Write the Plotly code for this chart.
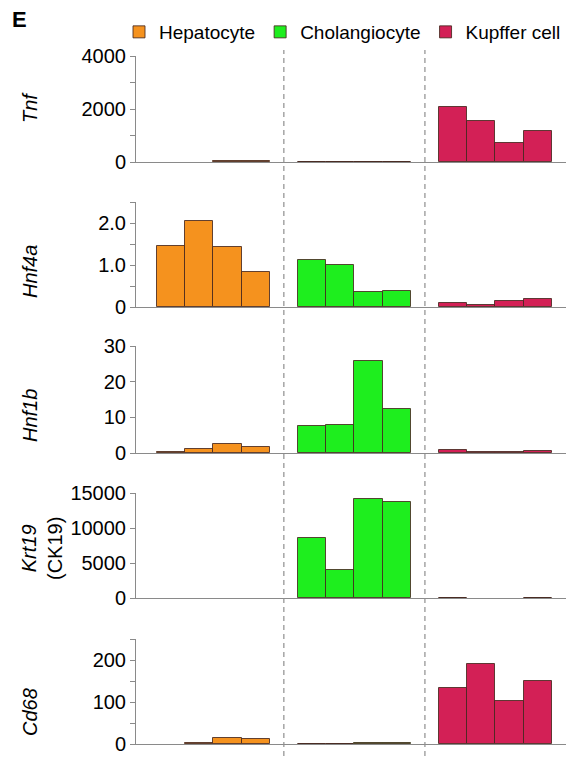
import plotly.graph_objects as go

W, H = 566, 760

cell_types = ["Hepatocyte", "Cholangiocyte", "Kupffer cell"]
colors = ["#F5921E", "#1EEE1E", "#D32056"]

genes = ["Tnf", "Hnf4a", "Hnf1b", "Krt19", "Cd68"]
gene_labels = ["<i>Tnf</i>", "<i>Hnf4a</i>", "<i>Hnf1b</i>", "<i>Krt19</i><br>(CK19)", "<i>Cd68</i>"]

# values: [gene][cell type] -> 4 samples (None = not visible / zero)
tnf_hep = [None, None, 20, 30]
tnf_chol = [5, 5, 5, 5]
tnf_kup = [2060, 1530, 715, 1170]

hnf4a_hep = [1.46, 2.05, 1.44, 0.83]
hnf4a_chol = [1.12, 1.00, 0.36, 0.38]
hnf4a_kup = [0.09, 0.05, 0.15, 0.18]

hnf1b_hep = [0.35, 1.1, 2.4, 1.6]
hnf1b_chol = [7.6, 7.8, 25.8, 12.3]
hnf1b_kup = [0.9, 0.2, 0.2, 0.5]

krt19_hep = [None, None, None, None]
krt19_chol = [8570, 4000, 14150, 13700]
krt19_kup = [30, None, None, 30]

cd68_hep = [None, 2, 13.5, 12]
cd68_chol = [1, 1, 2, 2]
cd68_kup = [133, 191, 102, 150]

values = [
    [tnf_hep, tnf_chol, tnf_kup],
    [hnf4a_hep, hnf4a_chol, hnf4a_kup],
    [hnf1b_hep, hnf1b_chol, hnf1b_kup],
    [krt19_hep, krt19_chol, krt19_kup],
    [cd68_hep, cd68_chol, cd68_kup],
]

y_ranges = [[0, 4000], [0, 2.5], [0, 30], [0, 15000], [0, 250]]
y_tickvals = [
    [0, 1000, 2000, 3000, 4000],
    [0, 0.5, 1.0, 1.5, 2.0, 2.5],
    [0, 10, 20, 30],
    [0, 5000, 10000, 15000],
    [0, 50, 100, 150, 200, 250],
]
y_ticktext = [
    ["0", "", "2000", "", "4000"],
    ["0", "", "1.0", "", "2.0", ""],
    ["0", "10", "20", "30"],
    ["0", "5000", "10000", "15000"],
    ["0", "", "100", "", "200", ""],
]

# panel pixel extents (top, bottom) measured from top of figure
panel_px = [(56, 162), (202, 307), (346, 453), (493, 598), (639, 744)]
label_px = [(30, 108), (30, 272), (30, 416), (42, 549), (30, 712)]
separators = [4.0, 9.0]

FONT = "Liberation Sans, Arial, sans-serif"
AXC = "#8a8a8a"

fig = go.Figure()
layout = dict(
    width=W, height=H,
    margin=dict(l=0, r=0, t=0, b=0, autoexpand=False),
    paper_bgcolor="white", plot_bgcolor="white",
    barmode="overlay", bargap=0,
    font=dict(family=FONT, size=20, color="black"),
    showlegend=True,
    legend=dict(orientation="h", x=1.0, xanchor="right", y=1 - 32 / H, yanchor="middle",
                font=dict(family=FONT, size=19, color="black"),
                itemwidth=30, tracegroupgap=0, bgcolor="rgba(0,0,0,0)"),
)

for gi in range(5):
    ax = "" if gi == 0 else str(gi + 1)
    for ci in range(3):
        xs = [5 * ci + j for j in range(4)]
        fig.add_trace(go.Bar(
            x=xs, y=values[gi][ci], width=1.0,
            marker=dict(color=colors[ci], line=dict(color="rgba(70,40,30,0.85)", width=1)),
            name=cell_types[ci], showlegend=(gi == 0), legendgroup=cell_types[ci],
            xaxis="x" + ax, yaxis="y" + ax, hoverinfo="skip",
        ))
    top, bot = panel_px[gi]
    layout["xaxis" + ax] = dict(
        domain=[136 / W, 1.0], range=[-1.24, 14.0], anchor="y" + ax,
        showline=True, linecolor=AXC, linewidth=1, ticks="", showticklabels=False,
        showgrid=False, zeroline=False, fixedrange=True,
    )
    layout["yaxis" + ax] = dict(
        domain=[1 - bot / H, 1 - top / H], range=y_ranges[gi], anchor="x" + ax,
        showline=True, linecolor=AXC, linewidth=1, ticks="outside", ticklen=5,
        tickcolor=AXC, tickwidth=1,
        tickvals=y_tickvals[gi], ticktext=y_ticktext[gi],
        tickfont=dict(family=FONT, size=20, color="black"),
        showgrid=False, zeroline=False, fixedrange=True,
    )

fig.update_layout(**layout)

for xv in separators:
    fig.add_shape(type="line", xref="x", yref="paper", x0=xv, x1=xv,
                  y0=1 - 756 / H, y1=1 - 50 / H,
                  line=dict(color="#8f8f8f", width=1.2, dash="5px,4px"))

for gi in range(5):
    lx, ly = label_px[gi]
    fig.add_annotation(text=gene_labels[gi], xref="paper", yref="paper",
                       x=lx / W, y=1 - ly / H, xanchor="center", yanchor="middle",
                       textangle=-90, showarrow=False,
                       font=dict(family=FONT, size=20, color="black"))

fig.add_annotation(text="<b>E</b>", xref="paper", yref="paper", x=19 / W, y=1 - 20 / H,
                   xanchor="center", yanchor="middle", showarrow=False,
                   font=dict(family=FONT, size=22, color="black"))

fig.write_html(
    "out.html",
    config={"displayModeBar": False},
    post_script="document.body.style.margin='0';document.body.style.overflow='hidden';",
)
